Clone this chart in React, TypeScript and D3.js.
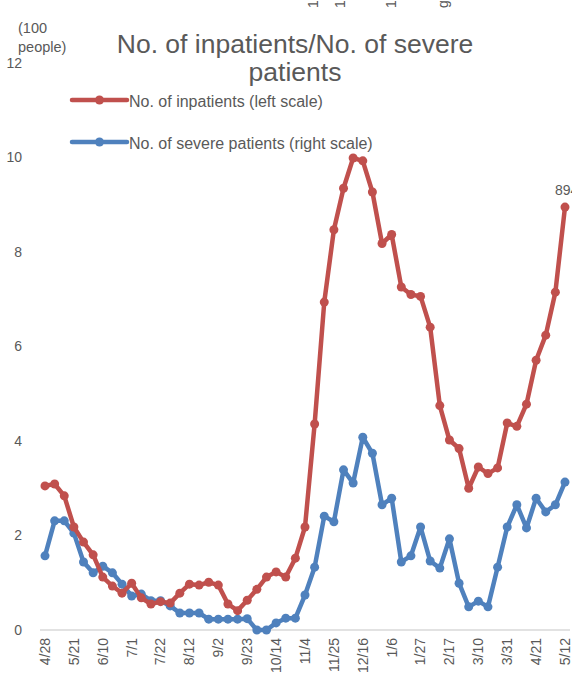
import React from "react";
import * as d3 from "d3";

const dates = [
  "4/28","5/7","5/14","5/21","5/27","6/3","6/10","6/17","6/24","7/1","7/8","7/15","7/22","7/29",
  "8/5","8/12","8/19","8/26","9/2","9/9","9/16","9/23","9/30","10/7","10/14","10/21","10/28",
  "11/4","11/11","11/18","11/25","12/2","12/9","12/16","12/23","12/30","1/6","1/13","1/20","1/27",
  "2/3","2/10","2/17","2/24","3/3","3/10","3/17","3/24","3/31","4/7","4/14","4/21","4/28","5/5","5/12",
];

const inpatients = [
  3.05, 3.09, 2.84, 2.18, 1.86, 1.59, 1.12, 0.93, 0.78, 0.99, 0.68, 0.55, 0.6, 0.57, 0.78, 0.97,
  0.95, 1.01, 0.95, 0.55, 0.41, 0.63, 0.86, 1.12, 1.23, 1.12, 1.52, 2.18, 4.36, 6.94, 8.47, 9.35,
  9.99, 9.93, 9.27, 8.18, 8.37, 7.26, 7.1, 7.06, 6.41, 4.75, 4.02, 3.84, 3.0, 3.45, 3.31, 3.43,
  4.38, 4.31, 4.78, 5.71, 6.24, 7.15, 8.95,
];

const severe = [
  1.57, 2.31, 2.31, 2.05, 1.44, 1.21, 1.35, 1.21, 0.97, 0.72, 0.76, 0.62, 0.62, 0.51, 0.36, 0.36,
  0.36, 0.23, 0.23, 0.23, 0.23, 0.24, 0.0, 0.0, 0.15, 0.25, 0.25, 0.74, 1.33, 2.41, 2.29, 3.39,
  3.11, 4.08, 3.74, 2.65, 2.79, 1.44, 1.57, 2.18, 1.46, 1.31, 1.93, 0.99, 0.49, 0.61, 0.49, 1.33,
  2.18, 2.65, 2.16, 2.79, 2.5, 2.65, 3.13,
];

const yTicks = [0, 2, 4, 6, 8, 10, 12];
const lastLabel = "894";
const topFragments = ["1", "1", "1", "g"];
const topFragmentX = [318, 345, 396, 448];

const W = 572;
const H = 684;
const RED = "#C0504D";
const BLUE = "#4F81BD";
const TXT = "#595959";
const FONT = "'Liberation Sans', Arial, sans-serif";

export default function App() {
  const idx = d3.range(dates.length);
  const x = d3.scalePoint<number>().domain(idx).range([45, 565]);
  const y = d3.scaleLinear().domain([0, 12]).range([630, 63]);
  const line = d3
    .line<number>()
    .x((_, i) => x(i) as number)
    .y((d) => y(d));

  const series = [
    { values: severe, color: BLUE },
    { values: inpatients, color: RED },
  ];

  return (
    <svg
      width={W}
      height={H}
      style={{ position: "absolute", left: 0, top: 0, background: "#fff" }}
      fontFamily={FONT}
    >
      <rect width={W} height={H} fill="#fff" />
      {topFragments.map((t, i) => (
        <text
          key={"f" + i}
          transform={`translate(${topFragmentX[i]},8) rotate(-90)`}
          fontSize={14}
          fill={TXT}
        >
          {t}
        </text>
      ))}
      {/* unit */}
      <text x={18} y={33} fontSize={14.5} fill={TXT}>(100</text>
      <text x={18} y={52} fontSize={14.5} fill={TXT}>people)</text>
      {/* title */}
      <text x={295} y={53} fontSize={26.5} fill={TXT} textAnchor="middle">
        No. of inpatients/No. of severe
      </text>
      <text x={295} y={81} fontSize={26.5} fill={TXT} textAnchor="middle">
        patients
      </text>
      {/* y ticks */}
      {yTicks.map((t) => (
        <text key={t} x={22} y={y(t)} dy="0.35em" fontSize={14} fill={TXT} textAnchor="end">
          {t}
        </text>
      ))}
      {/* zero line */}
      <line x1={40} x2={570} y1={y(0)} y2={y(0)} stroke="#d9d9d9" strokeWidth={1.5} />
      {/* x labels */}
      {idx
        .filter((i) => i % 3 === 0)
        .map((i) => (
          <text
            key={i}
            transform={`translate(${x(i)},638) rotate(-90)`}
            dy="0.35em"
            fontSize={14}
            fill={TXT}
            textAnchor="end"
          >
            {dates[i]}
          </text>
        ))}
      {/* series */}
      {series.map((s, si) => (
        <g key={si}>
          <path d={line(s.values) || ""} fill="none" stroke={s.color} strokeWidth={4.5} strokeLinejoin="round" strokeLinecap="round" />
          {s.values.map((v, i) => (
            <circle key={i} cx={x(i)} cy={y(v)} r={4.5} fill={s.color} />
          ))}
        </g>
      ))}
      <text x={555} y={195} fontSize={14} fill={TXT}>{lastLabel}</text>
      {/* legend */}
      <line x1={72} x2={127} y1={100} y2={100} stroke={RED} strokeWidth={4.5} strokeLinecap="round" />
      <circle cx={99.5} cy={100} r={4.5} fill={RED} />
      <text x={129} y={101} dy="0.35em" fontSize={16} fill={TXT}>No. of inpatients (left scale)</text>
      <line x1={72} x2={127} y1={142} y2={142} stroke={BLUE} strokeWidth={4.5} strokeLinecap="round" />
      <circle cx={99.5} cy={142} r={4.5} fill={BLUE} />
      <text x={129} y={143} dy="0.35em" fontSize={16} fill={TXT}>No. of severe patients (right scale)</text>
    </svg>
  );
}
